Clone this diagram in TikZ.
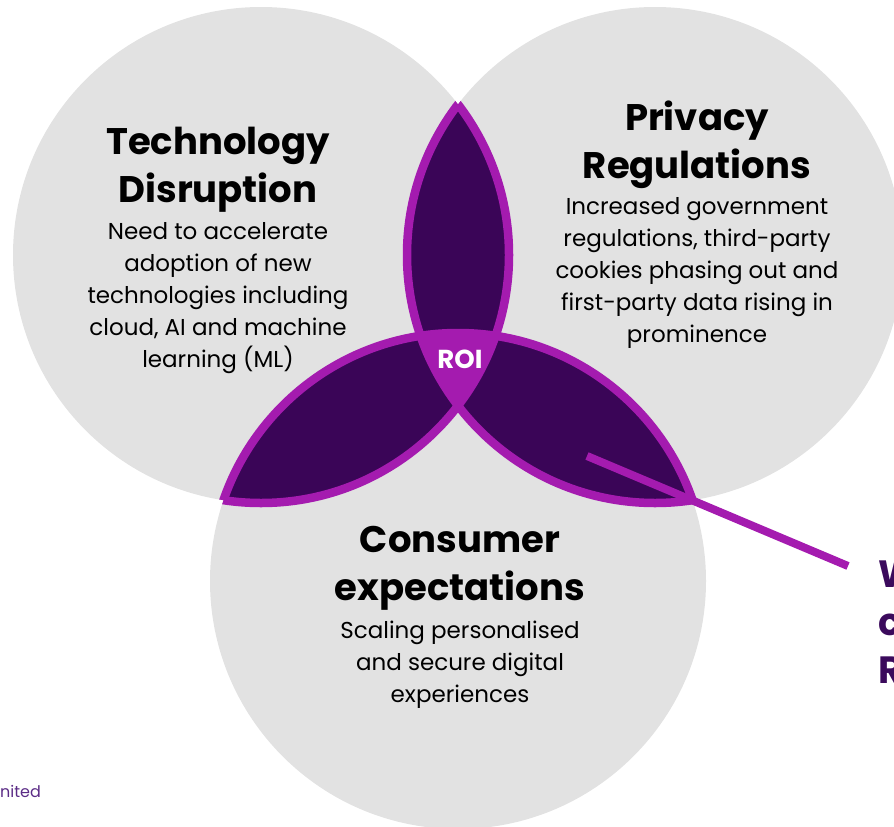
\documentclass[tikz,border=0pt]{standalone}
\usepackage{fontspec}
\setmainfont{Poppins}
\definecolor{venngrey}{HTML}{E2E2E2}
\definecolor{lensdark}{HTML}{3A0557}
\definecolor{roimag}{HTML}{A41BAF}
\definecolor{calloutink}{HTML}{3B0A5C}
\definecolor{footink}{HTML}{5B2C86}
\begin{document}
\begin{tikzpicture}[x=1pt,y=-1pt,
  titletext/.style={align=center,anchor=base,inner sep=0pt,
    font=\fontsize{37}{48}\selectfont\bfseries},
  bodytext/.style={align=center,anchor=base,inner sep=0pt,
    font=\fontsize{23}{32}\selectfont},
  outline/.style={draw=roimag,line width=8.5pt},
  pointer/.style={draw=roimag,line width=8pt}]
\useasboundingbox (0,0) rectangle (894,827);
% circle centres and radii
\coordinate (cA) at (261,255);
\coordinate (cB) at (655,255);
\coordinate (cC) at (458,581);
\def\rA{248}\def\rB{248}\def\rC{248}
% grey discs
\fill[venngrey] (cA) circle[radius=\rA] (cB) circle[radius=\rB] (cC) circle[radius=\rC];
% pairwise overlaps
\begin{scope}
  \clip (cA) circle[radius=\rA];
  \fill[lensdark] (cB) circle[radius=\rB];
  \fill[lensdark] (cC) circle[radius=\rC];
\end{scope}
\begin{scope}
  \clip (cB) circle[radius=\rB];
  \fill[lensdark] (cC) circle[radius=\rC];
\end{scope}
% triple overlap
\begin{scope}
  \clip (cA) circle[radius=\rA];
  \clip (cB) circle[radius=\rB];
  \fill[roimag] (cC) circle[radius=\rC];
\end{scope}
% outlines of the overlap regions
\begin{scope}
  \clip (cB) circle[radius=\rB] (cC) circle[radius=\rC];
  \path[outline] (cA) circle[radius=\rA];
\end{scope}
\begin{scope}
  \clip (cA) circle[radius=\rA] (cC) circle[radius=\rC];
  \path[outline] (cB) circle[radius=\rB];
\end{scope}
\begin{scope}
  \clip (cA) circle[radius=\rA] (cB) circle[radius=\rB];
  \path[outline] (cC) circle[radius=\rC];
\end{scope}
% labels (anchored at the baseline of their last line)
\node[titletext] (techtitle) at (218,202) {Technology\\Disruption};
\node[bodytext] (techbody) at (218,367) {Need to accelerate\\adoption of new\\technologies including\\cloud, AI and machine\\learning (ML)};
\node[titletext] (privtitle) at (697,178) {Privacy\\Regulations};
\node[bodytext] (privbody) at (697,342) {Increased government\\regulations, third-party\\cookies phasing out and\\first-party data rising in\\prominence};
\node[titletext] (constitle) at (460,600) {Consumer\\expectations};
\node[bodytext] (consbody) at (460,702) {Scaling personalised\\and secure digital\\experiences};
\node[anchor=base,inner sep=0pt,text=white,font=\fontsize{26}{30}\selectfont\bfseries] (roi) at (460,368) {ROI};
% callout
\coordinate (tipin) at (587,456);
\node[anchor=base west,inner sep=0pt,align=left,text=calloutink,
  font=\fontsize{38}{48}\selectfont\bfseries] (callout) at (878,683) {W\\c\\R};
\draw[pointer] (tipin) -- (848,566) coordinate (tipout);
\node[anchor=base west,inner sep=0pt,text=footink,font=\fontsize{16}{20}\selectfont] (foot) at (0,797) {nited};
\end{tikzpicture}
\end{document}
